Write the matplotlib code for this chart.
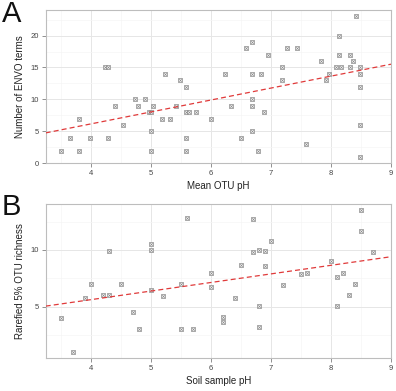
import matplotlib
matplotlib.use("Agg")
import matplotlib.pyplot as plt
import numpy as np

# -------------------- Data --------------------

# Panel A: mean OTU pH vs number of ENVO terms
ph_a = [3.5, 3.66, 3.8, 3.8, 3.98, 4.23, 4.29, 4.29, 4.4, 4.53, 4.74, 4.79,
        4.91, 4.97, 5.0, 5.04, 5.0, 5.0, 5.19, 5.24, 5.32, 5.42, 5.49, 5.59,
        5.59, 5.64, 5.59, 5.59, 5.75, 6.01, 6.24, 6.34, 6.51, 6.59, 6.69, 6.69,
        6.69, 6.69, 6.69, 6.79, 6.83, 6.89, 6.95, 7.19, 7.19, 7.27, 7.44, 7.59,
        7.84, 7.91, 7.96, 8.09, 8.13, 8.13, 8.17, 8.31, 8.31, 8.36, 8.42, 8.49,
        8.49, 8.49, 8.49, 8.49]
envo_a = [2, 4, 7, 2, 4, 15, 15, 4, 9, 6, 10, 9,
          10, 8, 8, 9, 5, 2, 7, 14, 7, 9, 13, 12,
          8, 8, 4, 2, 8, 7, 14, 9, 4, 18, 19, 14,
          10, 9, 5, 2, 14, 8, 17, 15, 13, 18, 18, 3,
          16, 13, 14, 15, 20, 17, 15, 17, 15, 16, 23, 15,
          14, 12, 6, 1]

# Panel B: soil sample pH vs rarefied 5% OTU richness
ph_b = [3.5, 3.7, 3.9, 4.0, 4.2, 4.3, 4.3, 4.5, 4.7, 4.8, 5.0, 5.0, 5.0,
        5.2, 5.5, 5.5, 5.6, 5.7, 6.0, 6.0, 6.2, 6.2, 6.4, 6.5, 6.7, 6.7,
        6.8, 6.8, 6.8, 6.9, 6.9, 7.0, 7.2, 7.5, 7.6, 8.0, 8.1, 8.1, 8.2,
        8.3, 8.4, 8.5, 8.5, 8.7]
rich_b = [4.0, 1.0, 5.8, 7.0, 6.0, 9.9, 6.0, 7.0, 4.55, 3.05, 10.5, 10.0, 6.5,
          5.9, 7.0, 3.05, 12.85, 3.05, 8.0, 6.75, 4.1, 3.65, 5.75, 8.7, 12.7, 9.82,
          10.0, 5.06, 3.24, 9.95, 8.62, 10.8, 6.9, 7.9, 8.0, 9.05, 7.65, 5.06, 7.95,
          6.05, 7.0, 13.5, 11.7, 9.85]

xticks = [4, 5, 6, 7, 8, 9]

plt.rcParams['font.family'] = ['Liberation Sans', 'DejaVu Sans']

W, H = 396, 391
fig = plt.figure(figsize=(W / 100, H / 100), dpi=100)


def panel(box, x, y, xlabel, ylabel, ylim, yticks, letter, letter_y):
    l, t, r, b = box
    ax = fig.add_axes([l / W, 1 - b / H, (r - l) / W, (b - t) / H])
    ax.set_facecolor('white')
    ax.set_xlim(3.25, 9)
    ax.set_xticks(xticks)
    ax.set_yticks(yticks)
    ax.set_xticks(np.arange(3.5, 9, 1), minor=True)
    step = yticks[1] - yticks[0]
    ax.set_yticks([v - step / 2 for v in yticks + [yticks[-1] + step]], minor=True)
    ax.set_ylim(*ylim)
    ax.grid(True, which='major', color='#e6e6e6', lw=0.7)
    ax.grid(True, which='minor', color='#f5f5f5', lw=0.5)
    ax.set_axisbelow(True)
    for s in ax.spines.values():
        s.set_color('#bdbdbd')
        s.set_linewidth(0.8)
    ax.tick_params(which='major', length=3, width=0.6, color='#7f7f7f',
                   labelsize=5.5, labelcolor='#444444', pad=2)
    ax.tick_params(which='minor', length=0)

    ax.scatter(x, y, marker='s', s=10, facecolors='#f2f2f2', edgecolors='#8a8a8a',
               linewidths=0.5, zorder=3)
    ax.scatter(x, y, marker='x', s=5, color='#8a8a8a', linewidths=0.4, zorder=3)

    # least squares fit, dashed red
    k, c = np.polyfit(x, y, 1)
    xs = np.array([3.25, 9])
    ax.plot(xs, k * xs + c, ls=(0, (4, 2.5)), color='#e03a3a', lw=0.9, zorder=4)

    ax.set_xlabel(xlabel, fontsize=7, color='#222222', labelpad=3)
    ax.set_ylabel(ylabel, fontsize=7, color='#222222', labelpad=4)
    fig.text(2 / W, 1 - letter_y / H, letter, fontsize=21, va='top', ha='left',
             color='#111111')
    return ax


panel((45.7, 10, 391, 163.3), ph_a, envo_a, 'Mean OTU pH', 'Number of ENVO terms',
      (0, 24), [0, 5, 10, 15, 20], 'A', 0)
panel((45.7, 204.3, 391, 358), ph_b, rich_b, 'Soil sample pH', 'Rarefied 5% OTU richness',
      (0.47, 14.03), [5, 10], 'B', 193)

fig.savefig('out.png', dpi=100)
